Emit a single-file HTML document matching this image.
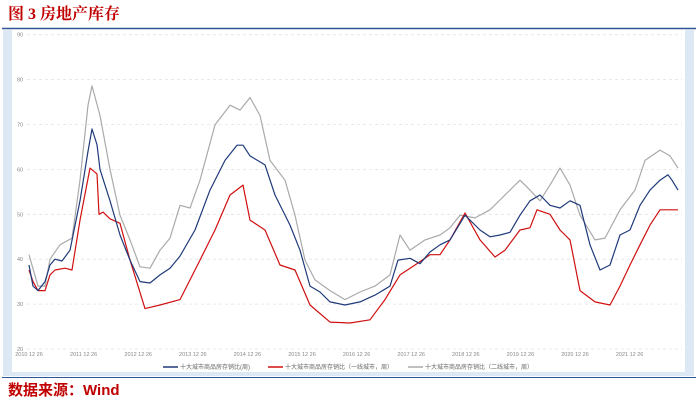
<!DOCTYPE html>
<html><head><meta charset="utf-8"><style>
body{margin:0;background:#fff;width:698px;height:405px;overflow:hidden;font-family:"Liberation Sans","Noto Sans CJK SC",sans-serif}
</style></head><body>
<svg width="698" height="405" xmlns="http://www.w3.org/2000/svg">
<rect x="0" y="0" width="698" height="405" fill="#fff"/>
<text x="8" y="19" font-size="16" font-weight="bold" fill="#c00000" font-family="Liberation Serif,Noto Serif CJK SC,serif">图 3 房地产库存</text>
<line x1="2" y1="28.5" x2="696" y2="28.5" stroke="#2f5597" stroke-width="1.5"/>
<rect x="3" y="30" width="9" height="344" fill="#dde8f5"/>
<rect x="685" y="30" width="9" height="344" fill="#dde8f5"/>
<rect x="3" y="372" width="691" height="4" fill="#dde8f5"/>
<line x1="2" y1="377.5" x2="696" y2="377.5" stroke="#2f5597" stroke-width="1"/>
<text x="8" y="395" font-size="15" font-weight="bold" fill="#c00000">数据来源：Wind</text>
<g id="grid"></g><g id="axes"></g><g id="series"></g>
<g id="legend" font-size="6" fill="#666">
<line x1="163" y1="367" x2="178" y2="367" stroke="#1f3a7a" stroke-width="1.5"/>
<text x="180" y="369">十大城市商品房存销比(周)</text>
<line x1="268" y1="367" x2="283" y2="367" stroke="#d01010" stroke-width="1.5"/>
<text x="285" y="369">十大城市商品房存销比（一线城市，周）</text>
<line x1="408" y1="367" x2="423" y2="367" stroke="#aaa" stroke-width="1.5"/>
<text x="425" y="369">十大城市商品房存销比（二线城市，周）</text>
</g>
</svg>
<script>
const yTicks=[20,30,40,50,60,70,80,90];
const xTickLabels=["2010 12 26","2011 12 26","2012 12 26","2013 12 26","2014 12 26","2015 12 26","2016 12 26","2017 12 26","2018 12 26","2019 12 26","2020 12 26","2021 12 26"];
const xPix=[29,33,38,45,50,55,62,70,80,88,92,97,100,110,120,130,140,150,160,170,180,195,210,225,237,243,250,265,275,290,300,310,320,330,345,360,375,390,398,410,420,430,440,450,465,480,490,500,510,520,530,540,550,560,570,580,590,600,610,620,630,640,650,660,668,672,678];
const blueT=xPix.map(x=>+((x-29)/54.6).toFixed(3));
const blueV=[38.7,34,33,35,38.7,40,39.6,42,53,64,69,65.5,60,53,45.4,39.8,35,34.7,36.5,38,40.7,46.5,55.4,62,65.4,65.4,63,61,54.3,47.6,42,34,32.7,30.5,29.8,30.5,32,34,39.8,40.2,39,41.6,43.2,44.3,49.8,46.5,45,45.4,46,49.8,53,54.3,52,51.4,53,52,43.2,37.6,38.7,45.4,46.5,52,55.4,57.6,58.8,57.6,55.4];
const redX=[29,33,38,45,50,55,65,72,80,90,97,99,103,110,120,130,145,160,180,200,215,230,243,250,265,280,295,310,330,350,370,385,400,415,430,440,450,465,480,495,505,520,530,537,550,560,570,580,595,610,620,630,640,650,660,670,678];
const redT=redX.map(x=>+((x-29)/54.6).toFixed(3));
const redV=[37.6,35,33,33,36.5,37.6,38,37.6,48.7,60.3,59,50,50.5,49,48,39.8,29,29.8,31,39.8,46.5,54.3,56.5,48.7,46.5,38.7,37.6,29.8,26,25.8,26.5,31,36.5,38.7,41,41,44.3,50.3,44.3,40.5,42,46.5,47,51,50,46.5,44.3,33,30.5,29.8,34,38.7,43.2,47.6,51,51,51];
const grayX=[29,38,45,50,60,72,80,88,92,100,110,120,130,140,150,160,170,180,190,200,215,230,240,250,260,270,285,295,305,315,330,345,360,375,390,400,410,425,440,450,460,475,490,505,520,530,540,550,560,570,580,595,605,620,635,645,660,670,678];
const grayT=grayX.map(x=>+((x-29)/54.6).toFixed(3));
const grayV=[41,34,34,40,43.2,44.7,57.6,74.3,78.6,72,60,49.8,44.3,38.3,38,42,44.7,52,51.4,57.6,69.9,74.3,73.2,76,72,62,57.6,49.8,39.8,35.4,33,31,32.7,34,36.5,45.4,42,44.3,45.4,47,49.8,49.2,51,54.3,57.6,55.4,53,56.5,60.3,56.5,49.8,44.3,44.7,51,55.4,62,64.3,63,60.3];
const NS="http://www.w3.org/2000/svg";
const xS=t=>29+t*54.6, yS=v=>349-(v-20)*4.49;
const grid=document.getElementById('grid'), axes=document.getElementById('axes'), ser=document.getElementById('series');
yTicks.forEach(v=>{
 const l=document.createElementNS(NS,'line');
 l.setAttribute('x1',27);l.setAttribute('x2',682);l.setAttribute('y1',yS(v));l.setAttribute('y2',yS(v));
 l.setAttribute('stroke','#e2e2e2');l.setAttribute('stroke-dasharray','3,3');l.setAttribute('stroke-width','0.8');
 
 
 grid.appendChild(l);
 const t=document.createElementNS(NS,'text');
 t.setAttribute('x',17);t.setAttribute('y',yS(v)+2);t.setAttribute('font-size','5.5');t.setAttribute('fill','#888');
 t.textContent=v;
 
 
 axes.appendChild(t);
});
xTickLabels.forEach((s,i)=>{
 const t=document.createElementNS(NS,'text');
 t.setAttribute('x',xS(i));t.setAttribute('y',356);t.setAttribute('font-size','5.5');t.setAttribute('fill','#888');t.setAttribute('text-anchor','middle');
 t.textContent=s;
 
 
 axes.appendChild(t);
});
function line(T,V,c,name){
 const p=document.createElementNS(NS,'path');
 p.setAttribute('d',T.map((t,i)=>(i?'L':'M')+xS(t).toFixed(1)+','+yS(V[i]).toFixed(1)).join(''));
 p.setAttribute('fill','none');p.setAttribute('stroke',c);p.setAttribute('stroke-width','1.2');p.setAttribute('stroke-linejoin','round');
 
 
 ser.appendChild(p);
}
line(grayT,grayV,'#aaaaaa','series-tier2');
line(redT,redV,'#d01010','series-tier1');
line(blueT,blueV,'#1f3a7a','series-total');
</script>
</body></html>
